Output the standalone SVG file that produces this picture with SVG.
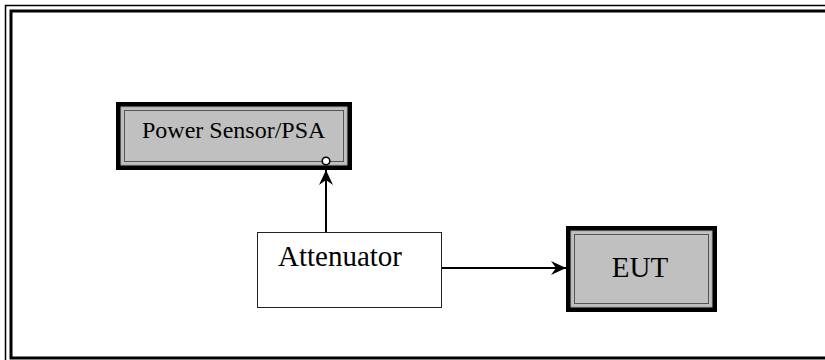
<svg xmlns="http://www.w3.org/2000/svg" width="825" height="360" viewBox="0 0 825 360">
<defs>
<style>
.lbl{font-family:"Liberation Serif","Times New Roman",serif;fill:#000}
.conn{stroke:#000;stroke-width:2;fill:none}
</style>
<marker id="arr" viewBox="0 0 15 14" refX="15" refY="7" markerWidth="15" markerHeight="14" markerUnits="userSpaceOnUse" orient="auto">
<path d="M0,0 L15,7 L0,14 L5,7 Z" fill="#000"/>
</marker>
</defs>
<rect width="825" height="360" fill="#fff"/>
<g id="frame">
<rect x="5.5" y="5.5" width="830" height="360" fill="none" stroke="#000" stroke-width="1.5"/>
<rect x="11" y="11" width="820" height="347" fill="none" stroke="#000" stroke-width="3"/>
</g>
<g id="power-sensor">
<rect x="116" y="102" width="236" height="68" fill="#000"/>
<rect x="121" y="107" width="226" height="58" fill="#c0c0c0" stroke="#a8a8a8" stroke-width="1"/>
<rect x="124.5" y="110.5" width="219" height="51" fill="#c0c0c0" stroke="#555" stroke-width="1"/>
<text class="lbl" x="142" y="138" font-size="24">Power Sensor/PSA</text>
<circle cx="326" cy="161" r="3.8" fill="#fff" stroke="#000" stroke-width="1.6"/>
</g>
<g id="attenuator">
<rect x="257.5" y="232.5" width="184" height="75" fill="#fff" stroke="#222" stroke-width="1"/>
<text class="lbl" x="278" y="266" font-size="29">Attenuator</text>
</g>
<g id="eut">
<rect x="566" y="226" width="151" height="86" fill="#000"/>
<rect x="571" y="231" width="141" height="76" fill="#c0c0c0" stroke="#a8a8a8" stroke-width="1"/>
<rect x="574.5" y="234.5" width="134" height="69" fill="#c0c0c0" stroke="#555" stroke-width="1"/>
<text class="lbl" x="640" y="277" font-size="29" text-anchor="middle">EUT</text>
</g>
<g id="connectors">
<line class="conn" x1="326" y1="232" x2="326" y2="170" marker-end="url(#arr)"/>
<line class="conn" x1="442" y1="268" x2="566" y2="268" marker-end="url(#arr)"/>
</g>
</svg>
